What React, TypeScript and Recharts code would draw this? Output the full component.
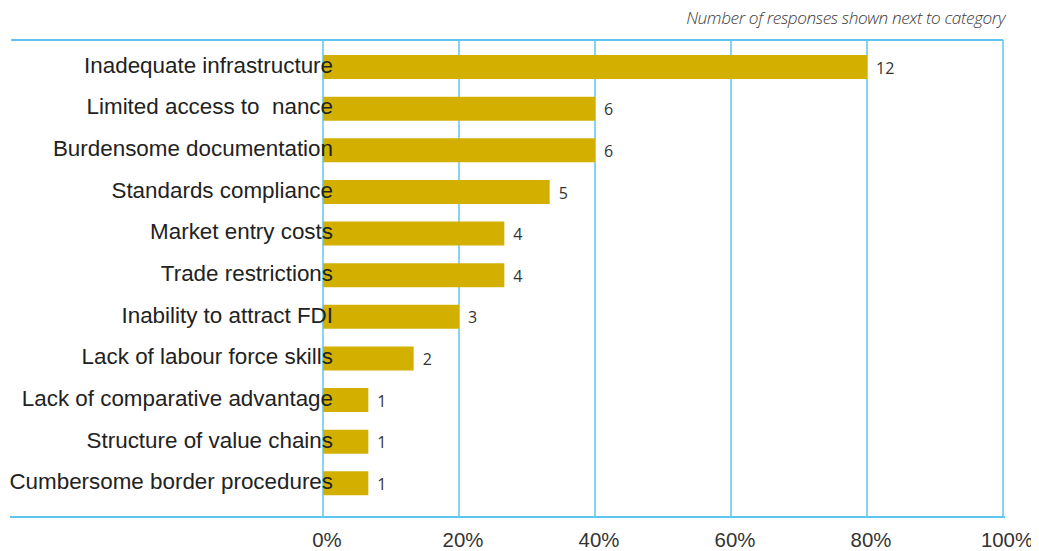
import { BarChart, Bar, XAxis, YAxis, CartesianGrid, LabelList } from "recharts";

const categories = [
  "Inadequate infrastructure",
  "Limited access to  nance",
  "Burdensome documentation",
  "Standards compliance",
  "Market entry costs",
  "Trade restrictions",
  "Inability to attract FDI",
  "Lack of labour force skills",
  "Lack of comparative advantage",
  "Structure of value chains",
  "Cumbersome border procedures",
];
const responses = [12, 6, 6, 5, 4, 4, 3, 2, 1, 1, 1];
const respondents = 15;
const xTicks = [0, 20, 40, 60, 80, 100];
const note = "Number of responses shown next to category";

const gridBlue = "#5cc6ee";

const data = categories.map((category, i) => ({
  category,
  count: responses[i],
  share: (responses[i] / respondents) * 100,
}));

function CategoryTick({ x, y, payload }: any) {
  return (
    <text
      x={x + 18}
      y={y}
      dy={6}
      textAnchor="end"
      fill="#222"
      fontSize={22.4}
      fontFamily="'Liberation Sans', Arial, sans-serif"
      style={{ whiteSpace: "pre" }}
    >
      {payload.value}
    </text>
  );
}

export default function App() {
  return (
    <div style={{ position: "relative", width: 1031, height: 543 }}>
      <style>{`.recharts-surface { overflow: visible; }`}</style>
      <div
        style={{
          position: "absolute",
          top: 0,
          right: 34,
          lineHeight: "20px",
          fontSize: 17.2,
          fontStyle: "italic",
          fontWeight: 300,
          fontFamily: "'Open Sans', sans-serif",
          color: "#3a3a3a",
          letterSpacing: -0.4,
        }}
      >
        {note}
      </div>
      <BarChart
        width={1031}
        height={543}
        data={data}
        layout="vertical"
        margin={{ top: 32, right: 36, bottom: 4, left: 0 }}
      >
        <CartesianGrid horizontal={false} stroke={gridBlue} strokeWidth={1.5} />
        <Bar dataKey="share" fill="#d3b000" barSize={24} isAnimationActive={false}>
          <LabelList
            dataKey="count"
            position="right"
            offset={9}
            fill="#333"
            fontSize={16}
            fontFamily="'Open Sans', sans-serif"
            dy={1}
          />
        </Bar>
        <XAxis
          type="number"
          domain={[0, 100]}
          ticks={xTicks}
          interval={0}
          tickFormatter={(v) => `${v}%`}
          axisLine={false}
          tickLine={false}
          tickSize={0}
          tickMargin={16}
          height={30}
          tick={{ fontSize: 20.4, fill: "#333", dx: 4, fontFamily: "'Liberation Sans', Arial, sans-serif" }}
        />
        <YAxis
          type="category"
          dataKey="category"
          width={315}
          interval={0}
          axisLine={false}
          tickLine={false}
          padding={{ top: 6, bottom: 13 }}
          tick={<CategoryTick />}
        />
      </BarChart>
      <div style={{ position: "absolute", left: 3, top: 31, width: 992, height: 1.5, background: gridBlue }} />
      <div style={{ position: "absolute", left: 2, top: 508, width: 995, height: 1.5, background: gridBlue }} />
    </div>
  );
}
